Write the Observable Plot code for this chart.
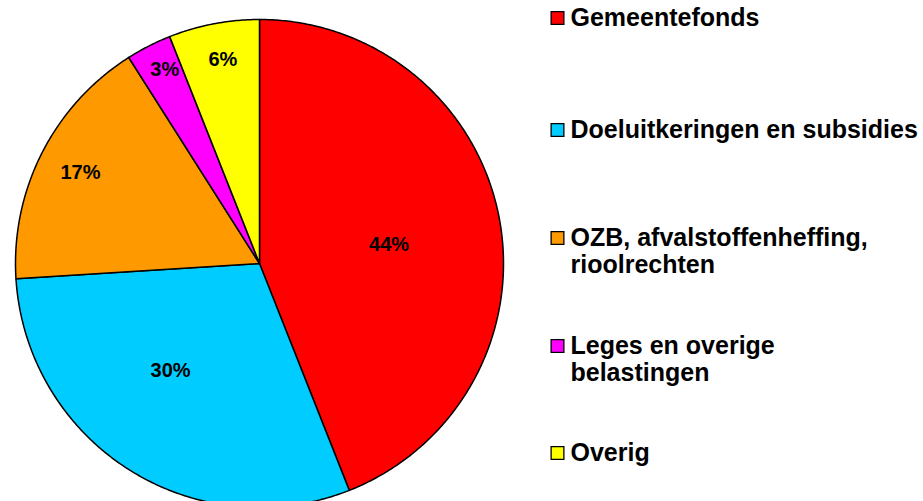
<!DOCTYPE html>
<html>
<head>
<meta charset="utf-8">
<script src="https://cdn.jsdelivr.net/npm/d3@7"></script>
<script src="https://cdn.jsdelivr.net/npm/@observablehq/plot@0.6"></script>
<style>
  html, body { margin: 0; padding: 0; background: #fff; }
  #chart svg { display: block; }
</style>
</head>
<body>
<div id="chart"></div>
<script>
// ---- data ----
const categories = ["Gemeentefonds", "Doeluitkeringen en subsidies", "OZB, afvalstoffenheffing, rioolrechten", "Leges en overige belastingen", "Overig"];
const legendLabels = ["Gemeentefonds", "Doeluitkeringen en subsidies", "OZB, afvalstoffenheffing,\nrioolrechten", "Leges en overige\nbelastingen", "Overig"];
const shares = [44, 30, 17, 3, 6];
const pctLabels = ["44%", "30%", "17%", "3%", "6%"];
const colors = ["#FF0000", "#00CCFF", "#FF9900", "#FF00FF", "#FFFF00"];

// ---- layout ----
const W = 923, H = 501;
const cx = 259, cy = 263, R = 244;
const labelRadius = [131, 139, 201, 216, 207];
const labelAngleShift = [2.5, 7.4, 0, 1, 0.6]; // degrees
const legendTop = [6, 118, 226, 334, 441];
const legendSwatchX = 557, legendTextX = 570;

const total = d3.sum(shares);
const slices = [];
const labels = [];
let acc = 0;
shares.forEach((v, i) => {
  const a0 = acc / total * 2 * Math.PI;
  acc += v;
  const a1 = acc / total * 2 * Math.PI;
  const steps = Math.max(2, Math.ceil((a1 - a0) / (Math.PI / 360)));
  slices.push({slice: i, x: cx, y: cy, color: colors[i]});
  for (let k = 0; k <= steps; k++) {
    const a = a0 + (a1 - a0) * k / steps;
    slices.push({slice: i, x: cx + R * Math.sin(a), y: cy - R * Math.cos(a), color: colors[i]});
  }
  slices.push({slice: i, x: cx, y: cy, color: colors[i]});
  const am = (a0 + a1) / 2 + labelAngleShift[i] * Math.PI / 180;
  labels.push({x: cx + labelRadius[i] * Math.sin(am), y: cy - labelRadius[i] * Math.cos(am), text: pctLabels[i]});
});

const legend = legendLabels.map((t, i) => ({text: t, y: legendTop[i], color: colors[i]}));

const font = "Arial, 'Liberation Sans', sans-serif";

const chart = Plot.plot({
  width: W,
  height: H,
  margin: 0,
  style: {fontFamily: font, background: "#fff"},
  x: {domain: [0, W], range: [0, W], axis: null},
  y: {domain: [0, H], range: [0, H], axis: null},
  color: {type: "identity"},
  marks: [
    Plot.line(slices, {x: "x", y: "y", z: "slice", fill: "color", stroke: "#000", strokeWidth: 1.5, curve: "linear", strokeLinejoin: "round"}),
    Plot.text(labels, {x: "x", y: "y", text: "text", fontSize: 20, fontWeight: "bold", fill: "#000", fontFamily: font}),
    Plot.dot(legend, {x: legendSwatchX, y: d => d.y + 11.5, symbol: "square", r: 7.2, fill: "color", stroke: "#000", strokeWidth: 1.3}),
    Plot.text(legend, {x: legendTextX, y: "y", text: "text", textAnchor: "start", lineAnchor: "top", lineHeight: 1.09, fontSize: 25, fontWeight: "bold", fill: "#000", fontFamily: font})
  ]
});
document.getElementById("chart").appendChild(chart);
</script>
</body>
</html>
